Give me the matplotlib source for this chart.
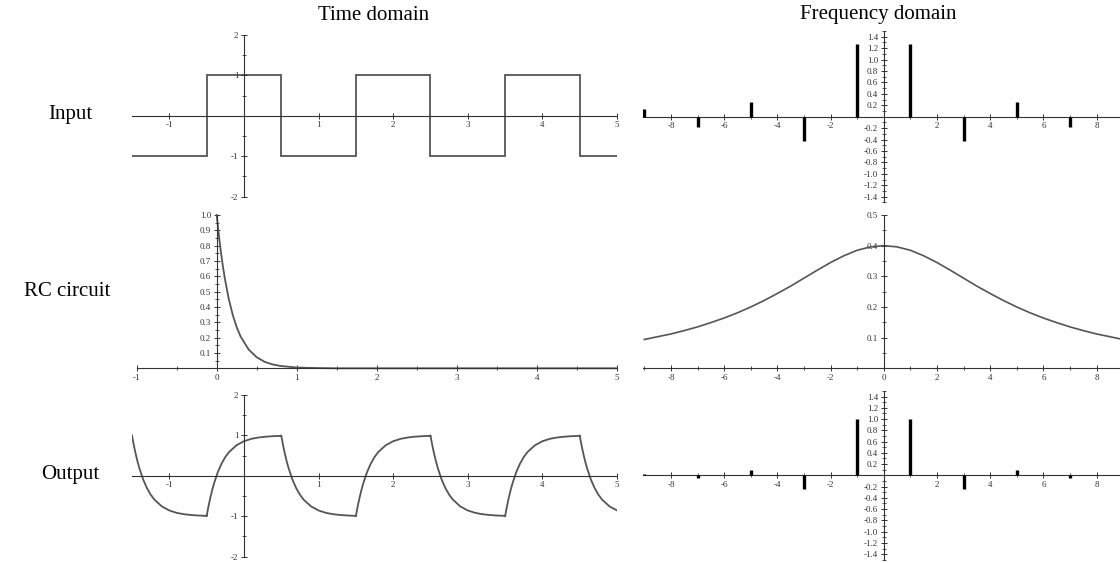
import matplotlib
matplotlib.use("Agg")
import matplotlib.pyplot as plt
from matplotlib.ticker import FixedLocator, FormatStrFormatter, MultipleLocator
import numpy as np

plt.rcParams["font.family"] = ["Liberation Serif", "DejaVu Serif"]
plt.rcParams["axes.unicode_minus"] = False

# --- data ---
# input square wave (time domain)
sq_edges = [-1.5, -0.5, 0.5, 1.5, 2.5, 3.5, 4.5, 5.0]
sq_levels = [-1, 1, -1, 1, -1, 1, -1]

# line spectra at odd harmonics
harmonics = [1, 3, 5, 7, 9]
input_amp = [1.27, -0.42, 0.25, -0.18, 0.14]
output_amp = [1.0, -0.25, 0.1, -0.05, 0.03]

# RC impulse response
rc_t = [0, 0.025, 0.05, 0.075, 0.1, 0.15, 0.2, 0.25, 0.3, 0.4, 0.5, 0.6, 0.7, 0.8, 1.0, 1.2, 1.5, 5.0]
rc_h = [1.0, 0.877, 0.769, 0.674, 0.591, 0.454, 0.349, 0.268, 0.206, 0.122, 0.072, 0.042,
        0.025, 0.015, 0.005, 0.002, 0.0, 0.0]

# RC response magnitude (symmetric, positive half)
rc_f_half = [0, 0.5, 1, 1.5, 2, 2.5, 3, 3.5, 4, 4.5, 5, 5.5, 6, 6.5, 7, 7.5, 8, 8.5, 9]
rc_mag_half = [0.400, 0.396, 0.385, 0.367, 0.345, 0.320, 0.294, 0.268, 0.244, 0.221,
               0.200, 0.181, 0.164, 0.149, 0.135, 0.123, 0.112, 0.103, 0.094]

# output: response over one half period after a rising edge (starting from -1)
step_dt = [0, 0.025, 0.05, 0.075, 0.1, 0.15, 0.2, 0.25, 0.3, 0.4, 0.5, 0.6, 0.7, 0.8, 0.9, 1.0]
step_y = [-1.0, -0.754, -0.538, -0.348, -0.182, 0.092, 0.302, 0.464, 0.588, 0.756, 0.856,
          0.916, 0.950, 0.970, 0.982, 0.990]

CURVE = "#555555"
AXC = "#333333"
W, H = 1120, 563


def _box(l, t, r, b):
    return [l / W, 1 - b / H, (r - l) / W, (b - t) / H]


def _center_axes(ax):
    for s in ("top", "right"):
        ax.spines[s].set_visible(False)
    ax.spines["left"].set_position(("data", 0))
    ax.spines["bottom"].set_position(("data", 0))
    for s in ("left", "bottom"):
        ax.spines[s].set_color(AXC)
        ax.spines[s].set_linewidth(0.8)
    ax.tick_params(which="major", direction="inout", length=5, width=0.7, colors=AXC,
                   labelsize=6.5, pad=1.5)
    ax.tick_params(which="minor", direction="inout", length=3, width=0.6, colors=AXC)
    ax.patch.set_visible(False)


def _time_axes(ax, ylim):
    _center_axes(ax)
    ax.set_xlim(-1.5, 5)
    ax.set_ylim(*ylim)
    ax.xaxis.set_major_locator(FixedLocator([-1, 1, 2, 3, 4, 5]))
    ax.xaxis.set_minor_locator(FixedLocator([]))
    ax.yaxis.set_major_locator(FixedLocator([-2, -1, 1, 2]))
    ax.yaxis.set_minor_locator(FixedLocator([-1.5, -0.5, 0.5, 1.5]))
    ax.xaxis.set_major_formatter(FormatStrFormatter("%d"))
    ax.yaxis.set_major_formatter(FormatStrFormatter("%d"))


def _freq_axes(ax):
    _center_axes(ax)
    ax.set_xlim(-9.05, 8.88)
    ax.set_ylim(-1.5, 1.5)
    ax.xaxis.set_major_locator(FixedLocator([-8, -6, -4, -2, 2, 4, 6, 8]))
    ax.xaxis.set_minor_locator(FixedLocator([-7, -5, -3, -1, 1, 3, 5, 7]))
    yt = [round(v, 1) for v in np.arange(-1.4, 1.41, 0.2) if abs(v) > 1e-6]
    ax.yaxis.set_major_locator(FixedLocator(yt))
    ax.yaxis.set_minor_locator(MultipleLocator(0.1))
    ax.xaxis.set_major_formatter(FormatStrFormatter("%d"))
    ax.yaxis.set_major_formatter(FormatStrFormatter("%.1f"))


def _spikes(ax, amps):
    f = np.array(harmonics)
    a = np.array(amps)
    ax.vlines(np.concatenate([-f, f]), 0, np.concatenate([a, a]), color="black", lw=2.4,
              zorder=3)


fig = plt.figure(figsize=(W / 100, H / 100), dpi=100)

# input, time domain
ax = fig.add_axes(_box(132, 35, 617, 196.7))
_time_axes(ax, (-2, 2))
ax.stairs(sq_levels, sq_edges, baseline=None, color=CURVE, lw=1.3)

# input, frequency domain
ax = fig.add_axes(_box(643, 31, 1120, 202.4))
_freq_axes(ax)
_spikes(ax, input_amp)

# RC circuit, time domain
ax = fig.add_axes(_box(136.7, 215, 616.7, 368.3))
_center_axes(ax)
ax.set_xlim(-1, 5)
ax.set_ylim(0, 1.0)
ax.xaxis.set_major_locator(MultipleLocator(1))
ax.xaxis.set_minor_locator(MultipleLocator(0.5))
ax.yaxis.set_major_locator(FixedLocator([0.1 * k for k in range(1, 11)]))
ax.yaxis.set_minor_locator(MultipleLocator(0.05))
ax.xaxis.set_major_formatter(FormatStrFormatter("%d"))
ax.yaxis.set_major_formatter(FormatStrFormatter("%.1f"))
ax.plot(rc_t, rc_h, color=CURVE, lw=1.3, clip_on=False)

# RC circuit, frequency domain
ax = fig.add_axes(_box(643, 215, 1120, 368.3))
_center_axes(ax)
ax.set_xlim(-9.05, 8.88)
ax.set_ylim(0, 0.5)
ax.xaxis.set_major_locator(FixedLocator([-8, -6, -4, -2, 0, 2, 4, 6, 8]))
ax.xaxis.set_minor_locator(FixedLocator([-9, -7, -5, -3, -1, 1, 3, 5, 7]))
ax.yaxis.set_major_locator(FixedLocator([0.1, 0.2, 0.3, 0.4, 0.5]))
ax.yaxis.set_minor_locator(MultipleLocator(0.05))
ax.xaxis.set_major_formatter(FormatStrFormatter("%d"))
ax.yaxis.set_major_formatter(FormatStrFormatter("%.1f"))
f_full = [-v for v in rc_f_half[::-1]] + rc_f_half[1:]
m_full = rc_mag_half[::-1] + rc_mag_half[1:]
ax.plot(f_full, m_full, color=CURVE, lw=1.2)

# output, time domain: chain the edge response after every input edge
ax = fig.add_axes(_box(132, 395, 617, 556.7))
_time_axes(ax, (-2, 2))
ot, oy = [], []
for start, stop, lev in zip(sq_edges[:-1], sq_edges[1:], sq_levels):
    for dt, y in zip(step_dt, step_y):
        if start + dt <= stop + 1e-9:
            ot.append(start + dt)
            oy.append(lev * y)
ax.plot(ot, oy, color=CURVE, lw=1.3)

# output, frequency domain
ax = fig.add_axes(_box(643, 390.9, 1120, 559.8))
_freq_axes(ax)
_spikes(ax, output_amp)

# titles and row labels
fig.text(374 / W, 1 - 15 / H, "Time domain", ha="center", va="center", fontsize=15)
fig.text(878 / W, 1 - 15 / H, "Frequency domain", ha="center", va="center", fontsize=15)
fig.text(70 / W, 1 - 115 / H, "Input", ha="center", va="center", fontsize=15)
fig.text(67 / W, 1 - 292 / H, "RC circuit", ha="center", va="center", fontsize=15)
fig.text(70 / W, 1 - 474 / H, "Output", ha="center", va="center", fontsize=15)

fig.savefig("out.png", dpi=100)
